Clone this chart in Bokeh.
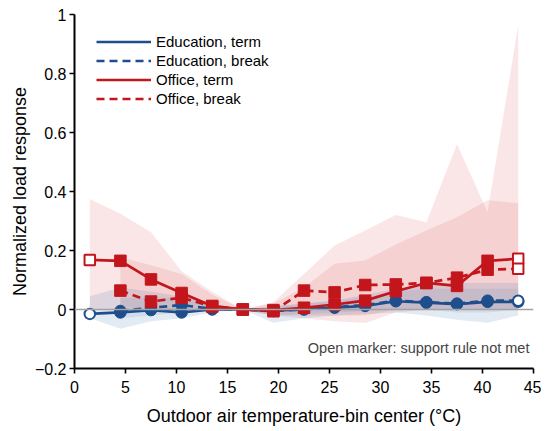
from bokeh.plotting import figure
from bokeh.models import (Span, Legend, LegendItem, FixedTicker, CustomJSTickFormatter, Label)
from bokeh.embed import file_html
from bokeh.resources import INLINE

# ---- data ----
bin_center = [1.5, 4.5, 7.5, 10.5, 13.5, 16.5, 19.5, 22.5, 25.5, 28.5, 31.5, 34.5, 37.5, 40.5, 43.5]
break_bin_center = bin_center[1:]

edu_term = [-0.015, -0.01, -0.002, -0.01, 0.0, 0.0, -0.004, 0.001, 0.006, 0.012, 0.028, 0.023, 0.018, 0.026, 0.026]
edu_term_lo = [-0.03, -0.065, -0.04, -0.03, -0.01, 0.0, -0.045, -0.03, -0.02, -0.015, -0.01, -0.02, -0.035, -0.045, -0.02]
edu_term_hi = [0.045, 0.075, 0.06, 0.045, 0.02, 0.0, 0.01, 0.02, 0.03, 0.05, 0.07, 0.08, 0.09, 0.09, 0.09]
edu_term_open = [True, False, False, False, False, False, False, False, False, False, False, False, False, False, True]

edu_break = [-0.005, 0.006, 0.015, 0.002, 0.0, -0.005, 0.0, 0.008, 0.015, 0.03, 0.025, 0.02, 0.03, 0.03]
edu_break_lo = [-0.03, -0.02, -0.01, -0.005, 0.0, -0.02, -0.015, -0.01, -0.005, 0.0, 0.0, -0.01, -0.01, 0.0]
edu_break_hi = [0.04, 0.04, 0.04, 0.015, 0.0, 0.01, 0.02, 0.03, 0.04, 0.06, 0.07, 0.07, 0.07, 0.07]
edu_break_open = [False, False, False, False, False, False, False, False, False, False, False, False, False, True]

office_term = [0.168, 0.165, 0.102, 0.056, 0.012, 0.0, -0.002, 0.006, 0.017, 0.03, 0.062, 0.09, 0.08, 0.165, 0.172]
office_term_lo = [0.0, 0.0, 0.0, 0.0, 0.0, 0.0, -0.02, -0.03, -0.04, -0.046, -0.01, 0.0, 0.0, 0.0, 0.0]
office_term_hi = [0.375, 0.325, 0.262, 0.13, 0.06, 0.0, 0.025, 0.12, 0.217, 0.268, 0.32, 0.296, 0.56, 0.33, 0.963]
office_term_open = [True, False, False, False, False, False, False, False, False, False, False, False, False, False, True]

office_break = [0.064, 0.027, 0.04, 0.01, 0.0, -0.006, 0.064, 0.058, 0.083, 0.085, 0.09, 0.108, 0.135, 0.138]
office_break_lo = [0.01, 0.0, 0.0, 0.0, 0.0, -0.02, -0.02, -0.02, -0.02, 0.0, 0.0, 0.0, 0.0, 0.0]
office_break_hi = [0.177, 0.15, 0.12, 0.05, 0.0, 0.02, 0.075, 0.155, 0.166, 0.22, 0.268, 0.313, 0.37, 0.36]
office_break_open = [False, False, False, False, False, False, False, False, False, False, False, False, False, True]

legend_labels = ["Education, term", "Education, break", "Office, term", "Office, break"]
x_ticks = [0, 5, 10, 15, 20, 25, 30, 35, 40, 45]
y_ticks = [-0.2, 0, 0.2, 0.4, 0.6, 0.8, 1.0]

BLUE = "#1f4e8d"
RED = "#c3161c"
FONT = "Liberation Sans"

p = figure(frame_width=459, frame_height=354, x_range=(0, 45), y_range=(-0.2, 1.0),
           output_backend="svg", toolbar_location=None,
           min_border_left=74, min_border_right=8, min_border_top=14, min_border_bottom=62)
p.outline_line_color = None
p.xgrid.visible = False
p.ygrid.visible = False
p.background_fill_color = "white"

# bands
p.varea(x=bin_center, y1=office_term_lo, y2=office_term_hi, fill_color="#e06666", fill_alpha=0.16)
p.varea(x=break_bin_center, y1=office_break_lo, y2=office_break_hi, fill_color="#e06666", fill_alpha=0.16)
p.varea(x=bin_center, y1=edu_term_lo, y2=edu_term_hi, fill_color="#4a7fb5", fill_alpha=0.16)
p.varea(x=break_bin_center, y1=edu_break_lo, y2=edu_break_hi, fill_color="#4a7fb5", fill_alpha=0.12)

series = [
    (bin_center, edu_term, edu_term_open, BLUE, "solid", "circle"),
    (break_bin_center, edu_break, edu_break_open, BLUE, "8 5", "circle"),
    (bin_center, office_term, office_term_open, RED, "solid", "square"),
    (break_bin_center, office_break, office_break_open, RED, "8 5", "square"),
]

line_renderers = []
for xs, ys, opens, color, dash, marker in series:
    r = p.line(xs, ys, line_color=color, line_width=2.7, line_dash=dash)
    line_renderers.append(r)
    fx = [x for x, o in zip(xs, opens) if not o]
    fy = [y for y, o in zip(ys, opens) if not o]
    ox = [x for x, o in zip(xs, opens) if o]
    oy = [y for y, o in zip(ys, opens) if o]
    p.scatter(fx, fy, marker=marker, size=11.5, fill_color=color, line_color=color, line_width=1)
    p.scatter(ox, oy, marker=marker, size=10.5, fill_color="white", line_color=color, line_width=2)

p.add_layout(Span(location=0, dimension="width", line_color="#a3a3a3", line_width=1.5))

legend = Legend(items=[LegendItem(label=l, renderers=[r]) for l, r in zip(legend_labels, line_renderers)],
                location=(22, 260), margin=0, padding=0, spacing=0,
                glyph_width=55, glyph_height=19, label_height=19, label_standoff=5,
                label_text_font=FONT, label_text_font_size="15px", label_text_color="black",
                background_fill_alpha=0, border_line_alpha=0)
p.add_layout(legend)

p.add_layout(Label(x=44.6, y=-0.132, text="Open marker: support rule not met",
                   text_align="right", text_baseline="middle", text_font=FONT,
                   text_font_size="14.5px", text_color="#444444"))

for ax in (p.xaxis[0], p.yaxis[0]):
    ax.axis_line_width = 2
    ax.axis_line_color = "black"
    ax.major_tick_line_width = 1.6
    ax.major_tick_line_color = "black"
    ax.major_tick_in = 0
    ax.major_tick_out = 5
    ax.minor_tick_line_color = None
    ax.major_label_text_font = FONT
    ax.major_label_text_font_size = "16px"
    ax.major_label_text_color = "black"
    ax.axis_label_text_font = FONT
    ax.axis_label_text_font_size = "18px"
    ax.axis_label_text_font_style = "normal"
    ax.axis_label_text_color = "black"

p.xaxis.ticker = FixedTicker(ticks=x_ticks)
p.yaxis.ticker = FixedTicker(ticks=y_ticks)
p.yaxis.formatter = CustomJSTickFormatter(code="""
if (Math.abs(tick) < 1e-9) return '0';
if (Math.abs(tick - 1) < 1e-9) return '1';
return tick.toFixed(1).replace('-', '\u2212');
""")
p.xaxis.axis_label = "Outdoor air temperature-bin center (\u00b0C)"
p.yaxis.axis_label = "Normalized load response"
p.xaxis.major_label_standoff = 7
p.yaxis.major_label_standoff = 3
p.xaxis.axis_label_standoff = 10
p.yaxis.axis_label_standoff = 2

open("out.html", "w").write(file_html(p, INLINE))
